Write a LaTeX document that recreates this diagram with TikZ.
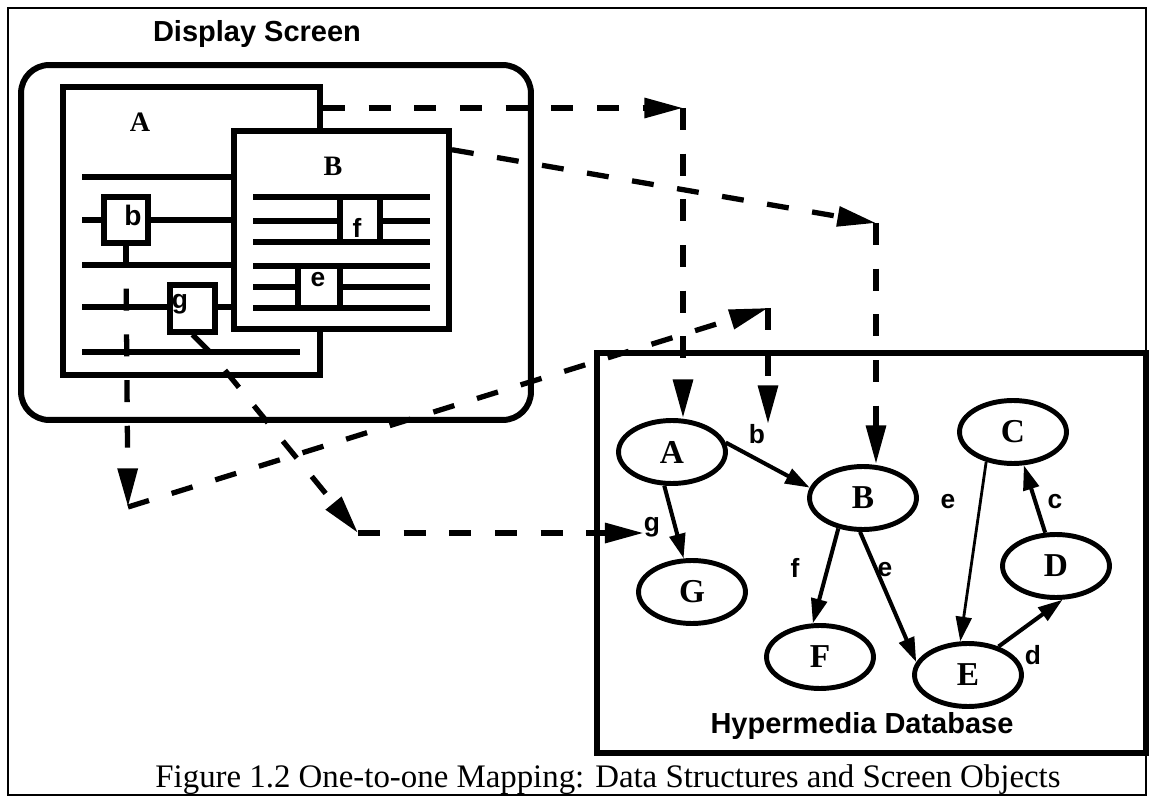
\documentclass[tikz,border=0pt]{standalone}
\usepackage{fontspec}
\setmainfont{Liberation Serif}
\setsansfont{Liberation Sans}
\usetikzlibrary{arrows.meta,shapes.geometric}

\tikzset{
  scrframe/.style={draw,line width=3.4pt,inner sep=0pt},
  textline/.style={line width=3pt},
  link/.style={line width=3pt,dash pattern=on 12.5pt off 13.5pt,
    -{Triangle[length=22pt,width=11pt]}},
  dbnode/.style={ellipse,draw,line width=2.8pt,minimum width=2.14cm,
    minimum height=1.26cm,inner sep=0pt,font=\fontsize{19}{19}\selectfont\bfseries},
  dblink/.style={line width=2.3pt,-{Triangle[length=14pt,width=9pt]}},
  elabel/.style={inner sep=0pt,font=\fontsize{15}{15}\selectfont\sffamily\bfseries},
  winlabel/.style={inner sep=0pt,font=\fontsize{16}{16}\selectfont\bfseries},
  heading/.style={inner sep=0pt,anchor=base,font=\fontsize{16.5}{16.5}\selectfont\sffamily\bfseries},
}

\begin{document}
\begin{tikzpicture}[x=0.02cm,y=-0.02cm]
  \useasboundingbox (0,0) rectangle (1150,797);
  % outer frame
  \draw[line width=1.2pt] (8,8) rectangle (1146,795);

  % display screen
  \node[heading] (title) at (257,42) {Display Screen};
  \node[scrframe,rounded corners=16pt,minimum width=10.2cm,minimum height=7.1cm] (screen) at (276,242.5) {};

  % window A
  \node[scrframe,fill=white,minimum width=5.14cm,minimum height=5.76cm] (winA) at (191.5,231) {};
  \node[winlabel] (labA) at (140,122) {A};
  \foreach \y in {177,220,265,307,352}
    \draw[textline] (82,\y) -- (300,\y);
  \node[scrframe,line width=3pt,fill=white,minimum width=0.88cm,minimum height=0.92cm] (boxb) at (126,220) {};
  \node[elabel,font=\fontsize{16}{16}\selectfont\sffamily\bfseries] (txtb) at (133,215) {b};
  \node[scrframe,line width=3pt,fill=white,minimum width=0.9cm,minimum height=0.94cm] (boxg) at (192.5,308.5) {};
  \node[elabel] (txtg) at (180,304) {g};
  \coordinate (bfoot) at (126,265);
  \coordinate (gfoot) at (210,352);
  \draw[textline] (boxb.south) -- (bfoot);
  \draw[textline] (boxg.south) -- (gfoot);

  % window B
  \node[scrframe,fill=white,minimum width=4.3cm,minimum height=3.96cm] (winB) at (341.5,230) {};
  \node[winlabel] (labB) at (333,166) {B};
  \foreach \y in {197,221,242,266,287,308}
    \draw[textline] (253,\y) -- (430,\y);
  \node[draw,textline,fill=white,inner sep=0pt,minimum width=0.8cm,minimum height=0.9cm] (boxf) at (360,219.5) {};
  \node[elabel] (txtf) at (357,228) {f};
  \node[draw,textline,fill=white,inner sep=0pt,minimum width=0.84cm,minimum height=0.84cm] (boxe) at (319,287) {};
  \node[elabel] (txte) at (318,280) {e};

  % hypermedia database
  \node[draw,line width=3pt,inner sep=0pt,minimum width=10.98cm,minimum height=8cm] (db) at (871.5,553) {};
  \node[heading] (dbtitle) at (862,733) {Hypermedia Database};
  \node[dbnode] (A) at (672,452) {A};
  \node[dbnode] (B) at (863,498) {B};
  \node[dbnode] (C) at (1013,432) {C};
  \node[dbnode] (D) at (1056,566) {D};
  \node[dbnode] (E) at (968,675) {E};
  \node[dbnode] (F) at (820,657) {F};
  \node[dbnode] (G) at (692,592) {G};

  \node[elabel] (lblb) at (757,434) {b};
  \node[elabel] (lblg) at (652,527) {g};
  \node[elabel] (lblf) at (795,568) {f};
  \node[elabel] (lble) at (885,570) {e};
  \node[elabel] (lblee) at (948,502) {e};
  \node[elabel] (lblc) at (1055,502) {c};
  \node[elabel] (lbld) at (1033,655) {d};

  \draw[dblink] (A.10) -- (B.169);
  \draw[dblink] (A.257) -- (G.104);
  \draw[dblink] (B.231) -- (F.102);
  \draw[dblink] (B.265) -- (E.166);
  \draw[dblink,line width=1.6pt] (C.228) -- (E.103);
  \draw[dblink] (D.108) -- (C.288);
  \draw[dblink] (E.43) -- (D.281);

  % mapping links
  \coordinate (cA) at (683,108);
  \coordinate (cB) at (876,223);
  \coordinate (cL) at (128,507);
  \coordinate (cR) at (768,308);
  \coordinate (cg) at (358,533);
  \draw[link] (winA.east |- cA) -- (cA);
  \draw[link] (cA) -- (cA |- A.north);
  \draw[link] (winB.36) -- (cB);
  \draw[link] (cB) -- (cB |- B.north);
  \draw[link,dash phase=12.5pt] (bfoot) -- (cL);
  \draw[link] (cL) -- (cR);
  \draw[link] (cR) -- (cR |- lblb.north);
  \draw[link,dash phase=12.5pt] (gfoot) -- (cg);
  \draw[link] (cg) -- (cg -| lblg.west);

  \node[anchor=base,inner sep=0pt,font=\fontsize{18.7}{18.7}\selectfont] (caption) at (608,787)
    {Figure 1.2 One-to-one Mapping: Data Structures and Screen Objects};
\end{tikzpicture}
\end{document}
